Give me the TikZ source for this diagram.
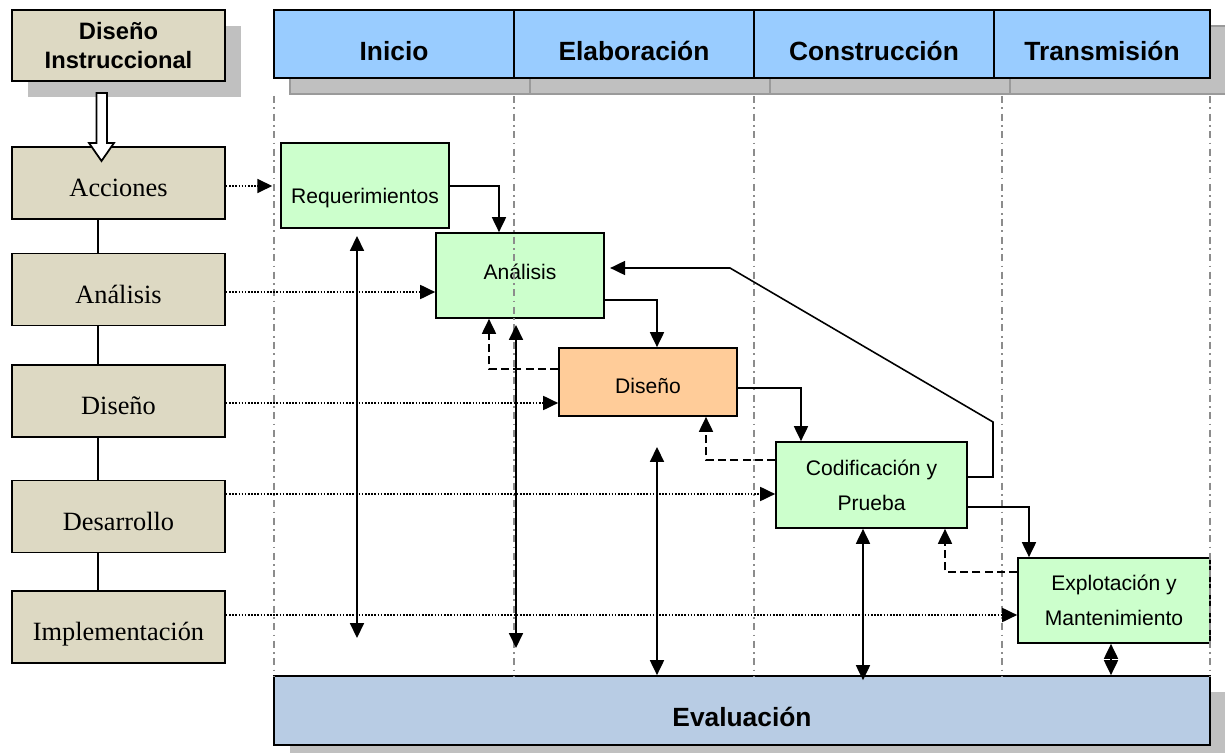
\documentclass[tikz,border=0pt]{standalone}
\usepackage{fontspec}
\setmainfont{Liberation Serif}
\setsansfont{Liberation Sans}
\usetikzlibrary{positioning, calc, arrows.meta, shadows}

\definecolor{beige}{HTML}{DDD9C3}
\definecolor{cielo}{HTML}{99CCFF}
\definecolor{menta}{HTML}{CCFFCC}
\definecolor{durazno}{HTML}{FFCC99}
\definecolor{acero}{HTML}{B8CCE4}
\definecolor{sombra}{HTML}{C0C0C0}
\definecolor{guiagris}{HTML}{8C8C8C}

\tikzset{
  caja/.style={draw, line width=1pt, inner sep=0pt, align=center},
  sombreada/.style={general shadow={shadow xshift=0.32cm, shadow yshift=-0.32cm, fill=sombra}},
  fase/.style={caja, fill=cielo, minimum width=4.8cm, minimum height=1.36cm,
    general shadow={shadow xshift=0.32cm, shadow yshift=-0.32cm, fill=sombra, draw=sombra!80!black},
    text height=23pt, text depth=4pt,
    font=\sffamily\bfseries\fontsize{15}{18}\selectfont},
  accion/.style={caja, fill=beige, minimum width=4.26cm, minimum height=1.44cm,
    text height=19.5pt, text depth=4pt,
    font=\fontsize{15}{18}\selectfont},
  etapa/.style={caja, fill=menta, minimum height=1.7cm,
    font=\sffamily\fontsize{12}{20}\selectfont},
  punta/.style={-{Triangle[length=8.5pt,width=8pt]}},
  flujo/.style={punta, line width=0.9pt},
  retorno/.style={flujo, dash pattern=on 4.5pt off 2.5pt},
  enlace/.style={flujo, dash pattern=on 0.9pt off 0.9pt},
  ambos/.style={{Triangle[length=8.5pt,width=8pt]}-{Triangle[length=8.5pt,width=8pt]}, line width=0.9pt},
  guia/.style={guiagris, line width=0.8pt, dash pattern=on 4pt off 2.5pt on 1pt off 2.5pt}
}

\begin{document}
\begin{tikzpicture}[x=0.02cm, y=-0.02cm]
  \useasboundingbox (0,0) rectangle (1225,753);

  % fases del proceso
  \node[fase] (ini) at (394,44) {Inicio};
  \node[fase] (ela) at (634,44) {Elaboración};
  \node[fase] (con) at (874,44) {Construcción};
  \node[fase, minimum width=4.32cm] (tra) at (1102,44) {Transmisión};

  % columna del diseno instruccional
  \node[caja, sombreada, fill=beige, minimum width=4.26cm, minimum height=1.42cm,
    font=\sffamily\bfseries\fontsize{13.5}{16}\selectfont] (ins) at (118.5,45.5) {Diseño\\Instruccional};
  \draw[line width=0.9pt] (98,219) -- (98,591);
  \node[accion] (acc) at (118.5,183) {Acciones};
  \node[accion] (anl) at (118.5,289.5) {Análisis};
  \node[accion] (dsl) at (118.5,401) {Diseño};
  \node[accion] (des) at (118.5,516.5) {Desarrollo};
  \node[accion] (imp) at (118.5,627) {Implementación};
  \draw[line width=1pt, fill=white] (96.5,93) -- (107,93) -- (107,143) -- (114,143)
    -- (101.5,161) -- (89,143) -- (96.5,143) -- cycle;

  % etapas
  \node[etapa, minimum width=3.36cm, text height=24pt, text depth=3pt] (req) at (365,185.5) {Requerimientos};
  \node[etapa, minimum width=3.36cm, text height=7pt, text depth=3pt] (ana) at (520,275.5) {Análisis};
  \node[etapa, fill=durazno, minimum width=3.56cm, minimum height=1.36cm,
    text height=16.5pt, text depth=3pt] (dis) at (648,382) {Diseño};
  \node[etapa, minimum width=3.82cm, minimum height=1.72cm] (cod) at (871.5,485) {Codificación y\\Prueba};
  \node[etapa, minimum width=3.84cm] (exp) at (1114,600.5) {Explotación y\\Mantenimiento};
  \node[caja, sombreada, fill=acero, minimum width=18.72cm, minimum height=1.38cm,
    text height=22.5pt, text depth=4pt,
    font=\sffamily\bfseries\fontsize{15}{18}\selectfont] (eva) at (742,710.5) {Evaluación};

  % lineas de fase
  \foreach \x in {274,514,754,1002,1210}
    \draw[guia] (\x,96) -- (\x,676);

  % acciones hacia etapas
  \draw[enlace, shorten >=4.5pt] (acc.east |- 0,186) -- (req.west |- 0,186);
  \draw[enlace] (anl.east |- 0,292) -- (ana.west |- 0,292);
  \draw[enlace] (dsl.east |- 0,403) -- (dis.west |- 0,403);
  \draw[enlace] (des.east |- 0,494) -- (cod.west |- 0,494);
  \draw[enlace] (imp.east |- 0,615) -- (exp.west |- 0,615);

  % secuencia
  \draw[flujo] (req.east |- 0,186) -| (ana.north -| 499,0);
  \draw[flujo] (ana.east |- 0,300) -| (dis.north -| 657,0);
  \draw[flujo] (dis.east |- 0,388) -| (cod.north -| 801,0);
  \draw[flujo] (cod.east |- 0,507) -| (exp.north -| 1029,0);
  \draw[flujo, shorten >=3pt] (cod.east |- 0,477) -- (993,477) -- (993,422) -- (730,268) -- (ana.east |- 0,268);

  % retroalimentacion
  \draw[retorno] (dis.west |- 0,369) -| (ana.south -| 489,0);
  \draw[retorno] (cod.west |- 0,460) -| (dis.south -| 706,0);
  \draw[retorno] (exp.west |- 0,572) -| (cod.south -| 945,0);

  % evaluacion
  \coordinate (e1a) at (357,236);
  \coordinate (e1b) at (357,638);
  \coordinate (e2a) at (516,325);
  \coordinate (e2b) at (516,648);
  \coordinate (e3a) at (657,447);
  \draw[ambos] (e1a) -- (e1b);
  \draw[ambos] (e2a) -- (e2b);
  \draw[ambos] (e3a) -- (eva.north -| e3a);
  \draw[ambos] (cod.south -| 863,0) -- ([yshift=-0.1cm]eva.north -| 863,0);
  \draw[ambos] (exp.south -| 1111,0) -- (eva.north -| 1111,0);
\end{tikzpicture}
\end{document}
